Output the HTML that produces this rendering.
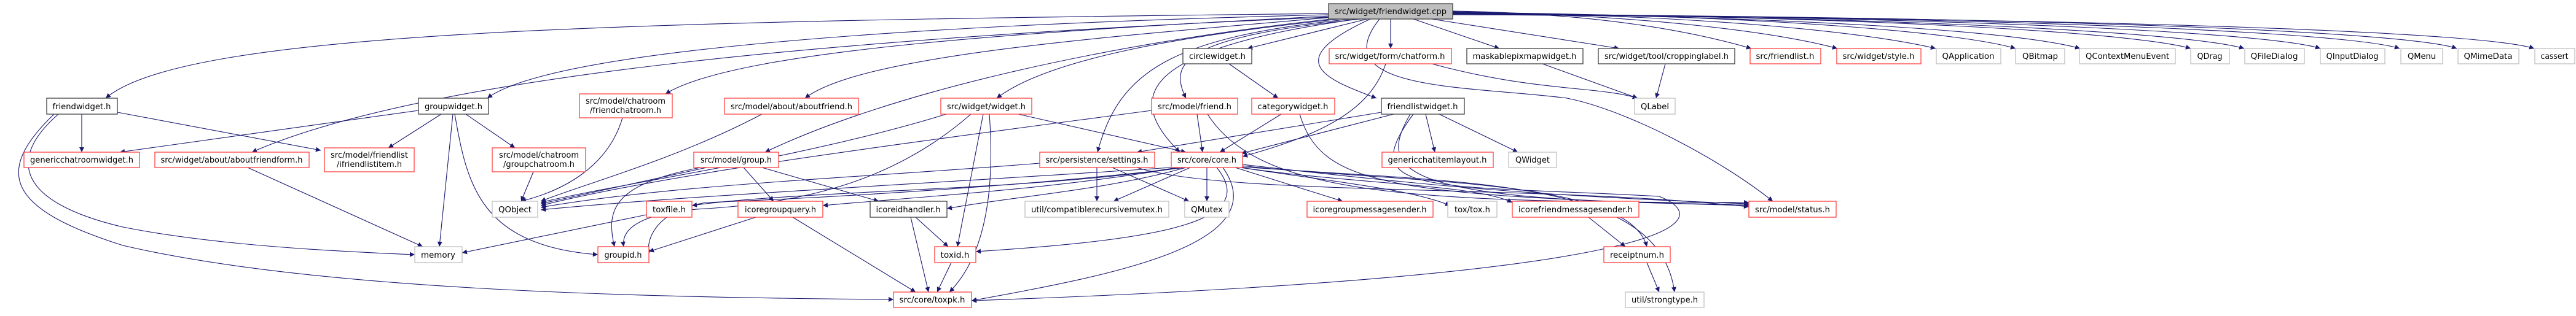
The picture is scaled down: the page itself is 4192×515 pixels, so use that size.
<!DOCTYPE html>
<html><head><meta charset="utf-8"><style>
html,body{margin:0;padding:0;background:#fff;}
svg{display:block;}
text{font-family:"DejaVu Sans","Liberation Sans",sans-serif;font-size:13px;fill:#000;}
.e{fill:none;stroke:#191970;stroke-width:1.1;marker-end:url(#a);}
.r{fill:#fff;stroke:#ff4040;stroke-width:1.3;}
.g{fill:#fff;stroke:#bfbfbf;stroke-width:1.3;}
.b{fill:#fff;stroke:#404040;stroke-width:1.3;}
</style></head><body>
<svg width="4192" height="515" viewBox="0 0 4192 515" xmlns="http://www.w3.org/2000/svg">
<defs><marker id="a" viewBox="0 0 10 10" refX="10" refY="5" markerWidth="10" markerHeight="8" markerUnits="userSpaceOnUse" orient="auto"><path d="M0,0 L10,5 L0,10 z" fill="#191970"/></marker></defs>
<g>
<path class="e" d="M2162,22 C1000,35 300,50 172,160"/>
<path class="e" d="M2162,24 C1500,40 900,80 793,160"/>
<path class="e" d="M2165,26 C1700,50 1200,80 1083,153"/>
<path class="e" d="M2170,28 C1800,60 1400,90 1310,160"/>
<path class="e" d="M2162,28 C1400,60 700,120 410,248"/>
<path class="e" d="M2175,30 C1800,70 1450,150 1245,248"/>
<path class="e" d="M2180,31 C1900,60 1700,100 1622,160"/>
<path class="e" d="M2200,31 C1900,60 1820,120 1786,248"/>
<path class="e" d="M2210,31 C1850,80 1830,160 1920,248"/>
<path class="e" d="M2215,31 C1930,60 1900,100 1930,160"/>
<path class="e" d="M2225,31 L2030,79"/>
<path class="e" d="M2263,31 L2263,79"/>
<path class="e" d="M2300,31 L2440,79"/>
<path class="e" d="M2330,31 L2635,79"/>
<path class="e" d="M2230,31 C2080,100 2160,130 2240,160"/>
<path class="e" d="M2245,31 C2150,150 2400,140 2550,160 C2650,180 2800,260 2885,328"/>
<path class="e" d="M2364,18 C2600,22 2750,50 2850,79"/>
<path class="e" d="M2364,19 C2700,25 2900,55 2990,79"/>
<path class="e" d="M2364,20 C2800,25 3050,55 3150,79"/>
<path class="e" d="M2364,20 C2900,25 3200,55 3280,79"/>
<path class="e" d="M2364,21 C3000,28 3300,55 3385,79"/>
<path class="e" d="M2364,21 C3100,28 3480,55 3565,79"/>
<path class="e" d="M2364,22 C3150,28 3570,55 3652,79"/>
<path class="e" d="M2364,22 C3250,28 3700,55 3776,79"/>
<path class="e" d="M2364,23 C3350,28 3830,55 3905,79"/>
<path class="e" d="M2364,23 C3450,28 3930,55 3998,79"/>
<path class="e" d="M2364,24 C3550,30 4050,55 4124,79"/>
<path class="e" d="M133,186 L133,248"/>
<path class="e" d="M191,183 L522,245"/>
<path class="e" d="M95,186 C10,260 30,330 200,370 C350,400 550,410 675,415"/>
<path class="e" d="M88,186 C-10,280 10,340 200,400 C500,470 1000,485 1454,488"/>
<path class="e" d="M681,180 L195,248"/>
<path class="e" d="M718,186 L632,241"/>
<path class="e" d="M758,186 L838,241"/>
<path class="e" d="M737,186 L715,402"/>
<path class="e" d="M740,186 C760,300 780,400 973,415"/>
<path class="e" d="M1013,192 C990,270 920,310 848,328"/>
<path class="e" d="M1240,186 C1100,260 950,300 880,328"/>
<path class="e" d="M403,273 L688,402"/>
<path class="e" d="M868,280 L848,328"/>
<path class="e" d="M1150,273 L880,332"/>
<path class="e" d="M1210,273 L1259,328"/>
<path class="e" d="M1240,273 L1430,328"/>
<path class="e" d="M1140,273 C1000,300 985,340 1000,402"/>
<path class="e" d="M1052,350 L752,412"/>
<path class="e" d="M1230,354 L1056,410"/>
<path class="e" d="M1290,354 L1490,476"/>
<path class="e" d="M1490,354 L1543,402"/>
<path class="e" d="M1482,354 L1511,476"/>
<path class="e" d="M1548,428 L1525,476"/>
<path class="e" d="M1540,186 C1300,260 1000,300 880,330"/>
<path class="e" d="M1657,186 L1930,248"/>
<path class="e" d="M1600,186 L1558,402"/>
<path class="e" d="M1610,186 C1620,320 1600,420 1545,476"/>
<path class="e" d="M1580,186 C1450,300 1300,330 1150,340 C1050,345 1010,370 1015,402"/>
<path class="e" d="M1874,180 C1500,230 1100,280 880,335"/>
<path class="e" d="M1948,186 L1957,248"/>
<path class="e" d="M1965,186 C2050,320 2300,330 2846,330"/>
<path class="e" d="M2085,186 L1985,248"/>
<path class="e" d="M2115,186 C2150,300 2250,320 2846,335"/>
<path class="e" d="M2000,104 L2080,160"/>
<path class="e" d="M2255,104 C2230,180 2150,220 2022,255"/>
<path class="e" d="M2330,104 C2500,150 2600,140 2665,160"/>
<path class="e" d="M2510,104 L2665,160"/>
<path class="e" d="M2710,104 L2695,160"/>
<path class="e" d="M2248,183 L1850,248"/>
<path class="e" d="M2268,186 L2020,250"/>
<path class="e" d="M2320,186 L2335,248"/>
<path class="e" d="M2342,186 L2470,248"/>
<path class="e" d="M2295,186 C2240,280 2270,330 2846,333"/>
<path class="e" d="M2300,186 C2200,320 2330,300 2700,320 C2800,360 2740,450 1581,490"/>
<path class="e" d="M1692,266 C1400,290 1100,300 880,338"/>
<path class="e" d="M1785,273 L1785,328"/>
<path class="e" d="M1810,273 L1935,328"/>
<path class="e" d="M1850,273 C2000,320 2500,300 2846,337"/>
<path class="e" d="M1906,273 C1500,300 1100,320 880,342"/>
<path class="e" d="M1915,273 C1700,310 1300,310 1126,335"/>
<path class="e" d="M1920,273 C1700,310 1500,320 1339,335"/>
<path class="e" d="M1930,273 C1800,310 1650,320 1541,340"/>
<path class="e" d="M1937,273 L1812,328"/>
<path class="e" d="M1964,273 L1964,328"/>
<path class="e" d="M2010,273 L2185,328"/>
<path class="e" d="M2018,273 C2200,300 2300,310 2360,335"/>
<path class="e" d="M2020,273 C2200,300 2400,300 2461,330"/>
<path class="e" d="M1980,273 C2050,360 1900,390 1588,410"/>
<path class="e" d="M1990,273 C2080,400 1800,450 1581,490"/>
<path class="e" d="M1930,273 C1700,300 1400,320 1150,330 C1080,340 1050,380 1056,415"/>
<path class="e" d="M2022,268 C2300,300 2500,320 2846,332"/>
<path class="e" d="M2020,270 C2300,300 2650,290 2680,402"/>
<path class="e" d="M2022,272 C2400,300 2700,290 2725,476"/>
<path class="e" d="M2585,354 L2645,402"/>
<path class="e" d="M2680,428 L2700,476"/>
</g>
<g>
<rect x="2162" y="6" width="202" height="25" fill="#bfbfbf" stroke="#404040" stroke-width="1.3"/><text x="2263" y="23" text-anchor="middle" textLength="182" lengthAdjust="spacingAndGlyphs">src/widget/friendwidget.cpp</text>
<rect class="b" x="76" y="160" width="115" height="26"/><text x="133" y="178" text-anchor="middle" textLength="95" lengthAdjust="spacingAndGlyphs">friendwidget.h</text>
<rect class="b" x="681" y="160" width="114" height="26"/><text x="738" y="178" text-anchor="middle" textLength="94" lengthAdjust="spacingAndGlyphs">groupwidget.h</text>
<rect class="r" x="943" y="153" width="151" height="39"/><text x="1018" y="169" text-anchor="middle" textLength="130" lengthAdjust="spacingAndGlyphs">src/model/chatroom</text><text x="1018" y="184" text-anchor="middle" textLength="116" lengthAdjust="spacingAndGlyphs">/friendchatroom.h</text>
<rect class="r" x="1179" y="160" width="218" height="26"/><text x="1288" y="178" text-anchor="middle" textLength="198" lengthAdjust="spacingAndGlyphs">src/model/about/aboutfriend.h</text>
<rect class="r" x="39" y="248" width="188" height="25"/><text x="133" y="265" text-anchor="middle" textLength="168" lengthAdjust="spacingAndGlyphs">genericchatroomwidget.h</text>
<rect class="r" x="252" y="248" width="251" height="25"/><text x="377" y="265" text-anchor="middle" textLength="231" lengthAdjust="spacingAndGlyphs">src/widget/about/aboutfriendform.h</text>
<rect class="r" x="528" y="241" width="146" height="39"/><text x="601" y="257" text-anchor="middle" textLength="126" lengthAdjust="spacingAndGlyphs">src/model/friendlist</text><text x="601" y="272" text-anchor="middle" textLength="106" lengthAdjust="spacingAndGlyphs">/ifriendlistitem.h</text>
<rect class="r" x="801" y="241" width="152" height="39"/><text x="877" y="257" text-anchor="middle" textLength="130" lengthAdjust="spacingAndGlyphs">src/model/chatroom</text><text x="877" y="272" text-anchor="middle" textLength="116" lengthAdjust="spacingAndGlyphs">/groupchatroom.h</text>
<rect class="r" x="1129" y="248" width="138" height="25"/><text x="1198" y="265" text-anchor="middle" textLength="116" lengthAdjust="spacingAndGlyphs">src/model/group.h</text>
<rect class="g" x="801" y="328" width="74" height="26"/><text x="838" y="346" text-anchor="middle" textLength="54" lengthAdjust="spacingAndGlyphs">QObject</text>
<rect class="r" x="1052" y="328" width="74" height="26"/><text x="1089" y="346" text-anchor="middle" textLength="54" lengthAdjust="spacingAndGlyphs">toxfile.h</text>
<rect class="r" x="1201" y="328" width="138" height="26"/><text x="1270" y="346" text-anchor="middle" textLength="116" lengthAdjust="spacingAndGlyphs">icoregroupquery.h</text>
<rect class="g" x="675" y="402" width="77" height="26"/><text x="713" y="420" text-anchor="middle" textLength="56" lengthAdjust="spacingAndGlyphs">memory</text>
<rect class="r" x="973" y="402" width="83" height="26"/><text x="1014" y="420" text-anchor="middle" textLength="61" lengthAdjust="spacingAndGlyphs">groupid.h</text>
<rect class="b" x="1925" y="79" width="112" height="25"/><text x="1981" y="96" text-anchor="middle" textLength="92" lengthAdjust="spacingAndGlyphs">circlewidget.h</text>
<rect class="r" x="2163" y="79" width="199" height="25"/><text x="2262" y="96" text-anchor="middle" textLength="179" lengthAdjust="spacingAndGlyphs">src/widget/form/chatform.h</text>
<rect class="b" x="2387" y="79" width="189" height="25"/><text x="2481" y="96" text-anchor="middle" textLength="169" lengthAdjust="spacingAndGlyphs">maskablepixmapwidget.h</text>
<rect class="b" x="2601" y="79" width="222" height="25"/><text x="2712" y="96" text-anchor="middle" textLength="202" lengthAdjust="spacingAndGlyphs">src/widget/tool/croppinglabel.h</text>
<rect class="r" x="1531" y="160" width="148" height="26"/><text x="1605" y="178" text-anchor="middle" textLength="128" lengthAdjust="spacingAndGlyphs">src/widget/widget.h</text>
<rect class="r" x="1874" y="160" width="140" height="26"/><text x="1944" y="178" text-anchor="middle" textLength="120" lengthAdjust="spacingAndGlyphs">src/model/friend.h</text>
<rect class="r" x="2037" y="160" width="135" height="26"/><text x="2104" y="178" text-anchor="middle" textLength="115" lengthAdjust="spacingAndGlyphs">categorywidget.h</text>
<rect class="b" x="2248" y="160" width="135" height="26"/><text x="2315" y="178" text-anchor="middle" textLength="115" lengthAdjust="spacingAndGlyphs">friendlistwidget.h</text>
<rect class="g" x="2660" y="160" width="66" height="26"/><text x="2693" y="178" text-anchor="middle" textLength="46" lengthAdjust="spacingAndGlyphs">QLabel</text>
<rect class="r" x="1692" y="248" width="187" height="25"/><text x="1785" y="265" text-anchor="middle" textLength="167" lengthAdjust="spacingAndGlyphs">src/persistence/settings.h</text>
<rect class="r" x="1906" y="248" width="116" height="25"/><text x="1964" y="265" text-anchor="middle" textLength="96" lengthAdjust="spacingAndGlyphs">src/core/core.h</text>
<rect class="r" x="2249" y="248" width="181" height="25"/><text x="2339" y="265" text-anchor="middle" textLength="161" lengthAdjust="spacingAndGlyphs">genericchatitemlayout.h</text>
<rect class="g" x="2455" y="248" width="78" height="25"/><text x="2494" y="265" text-anchor="middle" textLength="56" lengthAdjust="spacingAndGlyphs">QWidget</text>
<rect class="b" x="1416" y="328" width="125" height="26"/><text x="1478" y="346" text-anchor="middle" textLength="105" lengthAdjust="spacingAndGlyphs">icoreidhandler.h</text>
<rect class="g" x="1668" y="328" width="234" height="26"/><text x="1785" y="346" text-anchor="middle" textLength="214" lengthAdjust="spacingAndGlyphs">util/compatiblerecursivemutex.h</text>
<rect class="g" x="1928" y="328" width="72" height="26"/><text x="1964" y="346" text-anchor="middle" textLength="52" lengthAdjust="spacingAndGlyphs">QMutex</text>
<rect class="r" x="2127" y="328" width="205" height="26"/><text x="2229" y="346" text-anchor="middle" textLength="185" lengthAdjust="spacingAndGlyphs">icoregroupmessagesender.h</text>
<rect class="g" x="2356" y="328" width="80" height="26"/><text x="2396" y="346" text-anchor="middle" textLength="58" lengthAdjust="spacingAndGlyphs">tox/tox.h</text>
<rect class="r" x="2461" y="328" width="206" height="26"/><text x="2564" y="346" text-anchor="middle" textLength="186" lengthAdjust="spacingAndGlyphs">icorefriendmessagesender.h</text>
<rect class="r" x="1521" y="402" width="67" height="26"/><text x="1554" y="420" text-anchor="middle" textLength="47" lengthAdjust="spacingAndGlyphs">toxid.h</text>
<rect class="r" x="2610" y="402" width="108" height="26"/><text x="2664" y="420" text-anchor="middle" textLength="88" lengthAdjust="spacingAndGlyphs">receiptnum.h</text>
<rect class="r" x="1454" y="476" width="127" height="25"/><text x="1517" y="493" text-anchor="middle" textLength="107" lengthAdjust="spacingAndGlyphs">src/core/toxpk.h</text>
<rect class="g" x="2645" y="476" width="128" height="25"/><text x="2709" y="493" text-anchor="middle" textLength="108" lengthAdjust="spacingAndGlyphs">util/strongtype.h</text>
<rect class="r" x="2848" y="79" width="115" height="25"/><text x="2905" y="96" text-anchor="middle" textLength="95" lengthAdjust="spacingAndGlyphs">src/friendlist.h</text>
<rect class="r" x="2989" y="79" width="137" height="25"/><text x="3057" y="96" text-anchor="middle" textLength="117" lengthAdjust="spacingAndGlyphs">src/widget/style.h</text>
<rect class="g" x="3151" y="79" width="105" height="25"/><text x="3203" y="96" text-anchor="middle" textLength="85" lengthAdjust="spacingAndGlyphs">QApplication</text>
<rect class="g" x="3280" y="79" width="80" height="25"/><text x="3320" y="96" text-anchor="middle" textLength="58" lengthAdjust="spacingAndGlyphs">QBitmap</text>
<rect class="g" x="3384" y="79" width="156" height="25"/><text x="3462" y="96" text-anchor="middle" textLength="136" lengthAdjust="spacingAndGlyphs">QContextMenuEvent</text>
<rect class="g" x="3565" y="79" width="63" height="25"/><text x="3596" y="96" text-anchor="middle" textLength="41" lengthAdjust="spacingAndGlyphs">QDrag</text>
<rect class="g" x="3653" y="79" width="97" height="25"/><text x="3701" y="96" text-anchor="middle" textLength="77" lengthAdjust="spacingAndGlyphs">QFileDialog</text>
<rect class="g" x="3776" y="79" width="105" height="25"/><text x="3828" y="96" text-anchor="middle" textLength="85" lengthAdjust="spacingAndGlyphs">QInputDialog</text>
<rect class="g" x="3907" y="79" width="68" height="25"/><text x="3941" y="96" text-anchor="middle" textLength="46" lengthAdjust="spacingAndGlyphs">QMenu</text>
<rect class="g" x="4000" y="79" width="99" height="25"/><text x="4049" y="96" text-anchor="middle" textLength="79" lengthAdjust="spacingAndGlyphs">QMimeData</text>
<rect class="g" x="4125" y="79" width="65" height="25"/><text x="4157" y="96" text-anchor="middle" textLength="45" lengthAdjust="spacingAndGlyphs">cassert</text>
<rect class="r" x="2846" y="328" width="142" height="26"/><text x="2917" y="346" text-anchor="middle" textLength="122" lengthAdjust="spacingAndGlyphs">src/model/status.h</text>
</g>
</svg>
</body></html>
